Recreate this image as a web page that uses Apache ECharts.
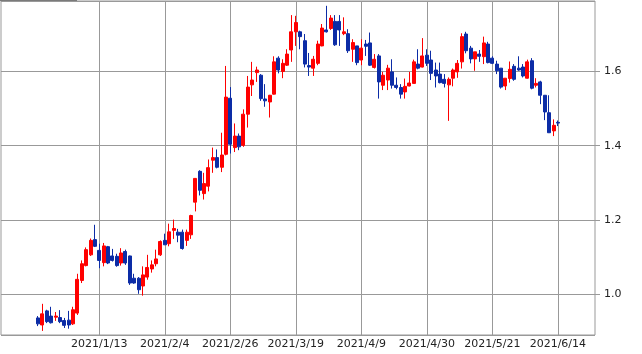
<!DOCTYPE html>
<html>
<head>
<meta charset="utf-8">
<script src="https://cdn.jsdelivr.net/npm/echarts@6/dist/echarts.min.js"></script>
<style>html,body{margin:0;padding:0;background:#fff}#c{width:642px;height:354px}</style>
</head>
<body>
<div id="c"></div>
<script>
// Trading-day calendar: weekdays from 2020/12/22 to 2021/6/14, skipping market holidays
const startDate = [2020, 12, 22];
const endDate = [2021, 6, 14];
const holidays = ['2020/12/25', '2021/1/1', '2021/1/18', '2021/2/15', '2021/5/31'];
const labelDates = ['2021/1/13', '2021/2/4', '2021/2/26', '2021/3/19', '2021/4/9', '2021/4/30', '2021/5/21', '2021/6/14'];
const padSlots = 8;

const opens = [
 0.936,0.917,0.955,0.941,0.938,0.937,0.929,0.930,0.920,0.949,
 1.037,1.077,1.106,1.147,1.118,1.085,1.128,1.103,1.102,1.084,
 1.115,1.103,1.043,1.043,1.022,1.046,1.068,1.082,1.106,1.145,
 1.136,1.172,1.167,1.167,1.145,1.160,1.248,1.331,1.271,1.291,
 1.361,1.368,1.342,1.377,1.528,1.395,1.426,1.401,1.485,1.564,
 1.597,1.590,1.526,1.518,1.539,1.636,1.600,1.617,1.658,1.707,
 1.707,1.683,1.616,1.609,1.622,1.669,1.712,1.716,1.735,1.735,
 1.702,1.702,1.660,1.669,1.631,1.674,1.677,1.611,1.642,1.563,
 1.577,1.599,1.563,1.557,1.545,1.561,1.568,1.620,1.612,1.644,
 1.631,1.604,1.593,1.579,1.564,1.582,1.599,1.626,1.701,1.663,
 1.634,1.647,1.640,1.674,1.636,1.620,1.609,1.561,1.581,1.614,
 1.609,1.612,1.582,1.629,1.563,1.572,1.536,1.489,1.440,1.463
];
const closes = [
 0.920,0.947,0.926,0.923,0.941,0.926,0.916,0.917,0.958,1.040,
 1.082,1.120,1.145,1.129,1.091,1.130,1.084,1.091,1.077,1.111,
 1.084,1.030,1.030,1.012,1.052,1.072,1.079,1.095,1.142,1.133,
 1.168,1.177,1.159,1.123,1.167,1.212,1.312,1.280,1.298,1.341,
 1.368,1.342,1.375,1.531,1.404,1.426,1.397,1.485,1.558,1.577,
 1.604,1.527,1.521,1.536,1.626,1.604,1.622,1.647,1.707,1.732,
 1.694,1.620,1.612,1.633,1.674,1.717,1.707,1.744,1.672,1.712,
 1.707,1.656,1.678,1.624,1.663,1.668,1.617,1.633,1.572,1.590,
 1.609,1.563,1.557,1.539,1.560,1.569,1.626,1.609,1.642,1.622,
 1.595,1.588,1.570,1.568,1.579,1.604,1.622,1.694,1.656,1.634,
 1.653,1.641,1.677,1.624,1.622,1.602,1.558,1.582,1.606,1.579,
 1.604,1.588,1.626,1.555,1.568,1.536,1.491,1.435,1.455,1.461
];
const lows = [
 0.914,0.901,0.922,0.921,0.928,0.922,0.909,0.907,0.917,0.944,
 1.030,1.075,1.103,1.127,1.070,1.075,1.081,1.088,1.074,1.077,
 1.079,1.025,1.028,1.001,0.996,1.039,1.058,1.075,1.103,1.133,
 1.129,1.149,1.140,1.120,1.130,1.149,1.223,1.266,1.255,1.277,
 1.327,1.339,1.329,1.374,1.379,1.383,1.388,1.397,1.449,1.534,
 1.572,1.521,1.505,1.476,1.538,1.595,1.582,1.615,1.626,1.669,
 1.660,1.611,1.588,1.588,1.617,1.668,1.705,1.712,1.669,1.669,
 1.698,1.650,1.626,1.617,1.617,1.642,1.615,1.608,1.527,1.550,
 1.550,1.554,1.552,1.527,1.527,1.560,1.568,1.606,1.611,1.615,
 1.577,1.557,1.568,1.557,1.467,1.560,1.583,1.608,1.649,1.622,
 1.602,1.626,1.620,1.622,1.620,1.593,1.554,1.550,1.570,1.575,
 1.602,1.584,1.581,1.552,1.557,1.512,1.469,1.435,1.426,1.453
];
const highs = [
 0.941,0.974,0.958,0.966,0.952,0.957,0.936,0.955,0.966,1.055,
 1.091,1.126,1.150,1.187,1.136,1.138,1.130,1.122,1.109,1.124,
 1.120,1.104,1.055,1.046,1.075,1.106,1.091,1.120,1.145,1.163,
 1.190,1.201,1.176,1.174,1.174,1.214,1.313,1.334,1.327,1.363,
 1.395,1.390,1.435,1.615,1.558,1.460,1.433,1.498,1.588,1.626,
 1.613,1.593,1.566,1.537,1.641,1.641,1.633,1.660,1.752,1.750,
 1.710,1.701,1.650,1.642,1.683,1.728,1.777,1.752,1.752,1.752,
 1.746,1.714,1.687,1.669,1.687,1.685,1.705,1.647,1.647,1.599,
 1.618,1.633,1.584,1.566,1.581,1.599,1.632,1.660,1.690,1.660,
 1.656,1.624,1.624,1.593,1.584,1.608,1.631,1.703,1.707,1.669,
 1.653,1.658,1.694,1.680,1.641,1.629,1.609,1.582,1.627,1.620,
 1.641,1.620,1.632,1.636,1.582,1.575,1.536,1.536,1.471,1.468
];
const yMin = 0.89, yMax = 1.79;

// build categories
function fmt(d){return d.getFullYear()+'/'+(d.getMonth()+1)+'/'+d.getDate();}
const dates = [];
for (let d = new Date(startDate[0], startDate[1]-1, startDate[2]); d <= new Date(endDate[0], endDate[1]-1, endDate[2]); d.setDate(d.getDate()+1)) {
  const wd = d.getDay();
  if (wd === 0 || wd === 6) continue;
  const s = fmt(d);
  if (holidays.indexOf(s) >= 0) continue;
  dates.push(s);
}
const categories = [];
const candles = [];
for (let i = 0; i < padSlots; i++) { categories.push('pre' + i); candles.push('-'); }
for (let i = 0; i < opens.length; i++) {
  categories.push(dates[i]);
  candles.push([opens[i], closes[i], lows[i], highs[i]]);
}
for (let i = 0; i < padSlots; i++) { categories.push('post' + i); candles.push('-'); }
const labelSet = new Set(labelDates);

const chart = echarts.init(document.getElementById('c'), null, {renderer: 'canvas'});
chart.setOption({
  animation: false,
  backgroundColor: '#fff',
  grid: {left: 1, right: 47, top: 1, bottom: 19, show: true, borderColor: '#999', borderWidth: 1, backgroundColor: 'transparent'},
  graphic: [{type: 'rect', left: 0, top: 0, shape: {width: 77, height: 1}, style: {fill: '#7a7a7a'}, z: 100}],
  xAxis: {
    type: 'category',
    data: categories,
    boundaryGap: true,
    axisLine: {show: false},
    axisTick: {show: false},
    axisLabel: {
      interval: function (idx, val) { return labelSet.has(val); },
      color: '#222', fontFamily: 'DejaVu Sans', fontSize: 11, margin: 4
    },
    splitLine: {
      show: true,
      alignWithLabel: true,
      interval: function (idx, val) { return labelSet.has(val); },
      lineStyle: {color: '#999', width: 1}
    }
  },
  yAxis: {
    type: 'value',
    position: 'right',
    min: yMin, max: yMax,
    scale: true,
    axisLine: {show: false},
    axisTick: {show: true, length: 5, lineStyle: {color: '#999'}},
    axisLabel: {color: '#222', fontFamily: 'DejaVu Sans', fontSize: 11, margin: 9, showMinLabel: false, showMaxLabel: false,
      formatter: function (v) { return v.toFixed(1); }},
    splitLine: {show: true, lineStyle: {color: '#999', width: 1}}
  },
  series: [{
    type: 'candlestick',
    data: candles,
    barWidth: 3.5,
    itemStyle: {color: '#ff0000', color0: '#0c2ca6', borderColor: '#ff0000', borderColor0: '#0c2ca6', borderWidth: 1}
  }]
});
</script>
</body>
</html>
